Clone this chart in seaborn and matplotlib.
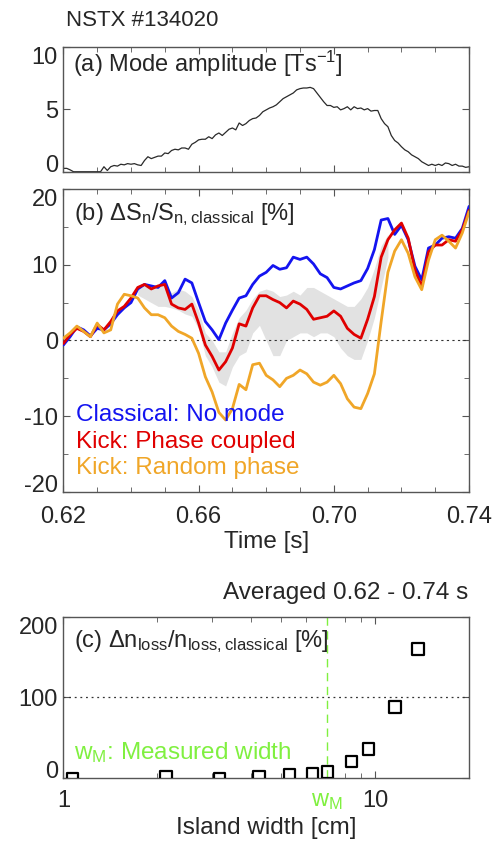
import numpy as np
import pandas as pd
import matplotlib.pyplot as plt
import seaborn as sns

# (a) mode amplitude [T/s], sampled every 1 ms
time_a = np.round(np.linspace(0.62, 0.74, 121), 3)
mode_amp = [0.27, 0.27, 0.15, 0.0, 0.0, 0.0, 0.0, 0.0, 0.0, 0.0,
            0.0, 0.0, 0.4, 0.1, 0.4, 0.5, 0.45, 0.6, 0.55, 0.65,
            0.6, 0.65, 0.55, 0.5, 0.9, 1.2, 1.05, 1.15, 1.25, 1.25,
            1.5, 1.45, 1.7, 1.8, 1.75, 1.9, 1.9, 1.8, 2.2, 2.35,
            2.55, 2.6, 2.6, 2.8, 2.65, 2.95, 3.1, 2.9, 3.15, 3.4,
            3.5, 3.35, 3.9, 3.7, 3.85, 4.1, 4.25, 4.3, 4.5, 4.8,
            4.95, 5.1, 5.2, 5.35, 5.6, 5.85, 6.0, 6.15, 6.3, 6.55,
            6.65, 6.7, 6.7, 6.75, 6.65, 6.3, 5.95, 5.6, 5.3, 5.3,
            5.15, 5.2, 4.95, 5.05, 5.2, 4.95, 5.2, 5.05, 5.1, 4.95,
            5.05, 4.85, 4.9, 4.9, 4.25, 3.85, 3.6, 2.9, 2.5, 2.3,
            2.0, 1.75, 1.6, 1.35, 1.2, 1.05, 0.8, 0.65, 0.5, 0.6,
            0.5, 0.6, 0.5, 0.7, 0.65, 0.5, 0.6, 0.45, 0.45, 0.35, 0.4]

# (b) neutron rate change [%], sampled every 2 ms
time_b = np.round(np.linspace(0.62, 0.74, 61), 3)
classical = [-0.6, 0.5, 1.8, 1.4, 0.6, 1.6, 1.4, 2.2, 3.4, 4.3,
             5.0, 6.8, 7.4, 7.2, 7.0, 7.9, 5.6, 6.3, 8.1, 7.6,
             5.0, 2.5, 1.4, 0.1, 2.3, 4.0, 5.6, 5.9, 7.4, 8.5,
             9.0, 9.9, 9.4, 9.6, 11.0, 10.7, 11.0, 10.1, 8.8, 8.3,
             7.0, 6.8, 7.2, 7.6, 7.9, 9.5, 12.0, 15.9, 16.1, 14.0,
             15.2, 13.3, 9.8, 8.0, 12.2, 12.6, 13.5, 13.7, 13.5, 14.8, 17.7]
phase_coupled = [-0.4, 0.8, 1.6, 1.2, 0.5, 2.1, 1.4, 2.5, 3.9, 4.5,
                 5.6, 7.0, 7.4, 6.8, 7.2, 7.4, 4.8, 4.3, 4.1, 4.8,
                 2.3, -0.6, -2.1, -3.9, -2.8, -1.0, 2.2, 1.9, 4.3, 5.9,
                 5.9, 5.4, 5.0, 4.3, 5.2, 4.8, 4.1, 2.8, 3.0, 3.2,
                 3.9, 3.2, 1.6, 0.8, 0.3, 2.8, 5.8, 11.0, 13.3, 14.6,
                 15.5, 13.5, 9.3, 7.1, 11.7, 12.6, 12.6, 13.3, 13.1, 14.6, 17.2]
random_phase = [0.3, 1.0, 1.9, 1.2, 0.5, 2.3, 1.0, 1.4, 4.8, 6.1,
                5.9, 5.6, 4.3, 3.4, 3.4, 3.0, 1.9, 1.2, 0.8, 0.3,
                -1.7, -4.8, -6.8, -9.5, -10.5, -9.0, -5.8, -6.5, -3.2, -3.0,
                -4.6, -5.2, -6.1, -5.0, -4.6, -3.9, -4.4, -5.5, -5.9, -5.5,
                -4.6, -5.7, -7.7, -8.8, -9.0, -7.0, -4.4, 2.5, 9.0, 11.8,
                13.3, 11.5, 8.4, 6.7, 10.6, 13.3, 13.9, 13.1, 12.2, 14.2, 17.0]
nan = np.nan
band_low = [nan] * 11 + [6.0, 5.5, 5.0, 4.5, 4.5, 4.3, 4.0, 3.5, 3.2,
                         1.5, -2.0, -3.5, -5.5, -6.0, -3.5, -2.0, -1.5, 1.0, 2.0,
                         0.0, -2.0, -2.0, 0.0, 0.5, 1.0, 1.0, 0.5, 1.0, 1.0,
                         0.5, -1.0, -2.0, -2.5, -2.5, 0.0, 3.0, 7.0, 11.0] + [nan] * 12
band_high = [nan] * 11 + [7.0, 7.4, 7.2, 7.2, 7.4, 6.3, 6.8, 6.5, 5.8,
                          4.0, 1.0, 0.0, -1.5, -1.5, 1.0, 3.0, 4.0, 5.5, 6.5,
                          6.8, 6.5, 5.8, 6.0, 6.5, 6.0, 7.0, 7.0, 6.5, 6.0,
                          5.5, 5.0, 4.5, 4.5, 5.5, 7.0, 9.5, 12.5, 14.0] + [nan] * 12

# (c) loss change vs island width
island_width = [1.07, 2.13, 3.17, 4.24, 5.31, 6.30, 7.04, 8.40, 9.52, 11.6, 13.7]
loss_change = [-2, 1, -1, 1, 3, 5, 7, 20, 36, 88, 160]
w_measured = 7.0

BLUE = "#1414f0"
RED = "#e00000"
ORANGE = "#f0a628"
GREEN = "#80f040"
AXIS_GRAY = "#555555"
case_names = ["Classical: No mode", "Kick: Phase coupled", "Kick: Random phase"]
case_colors = [BLUE, RED, ORANGE]

TICK_SIZE = 17
LABEL_SIZE = 17.5

sns.set_style("ticks")
plt.rcParams["font.family"] = ["Liberation Sans", "DejaVu Sans"]
plt.rcParams["mathtext.default"] = "regular"

fig = plt.figure(figsize=(4.99, 8.41), dpi=100)
ax_a = fig.add_axes([0.127, 0.7958, 0.813, 0.1486])
ax_b = fig.add_axes([0.127, 0.415, 0.813, 0.3603])
ax_c = fig.add_axes([0.127, 0.0753, 0.813, 0.1911])


def style_axis(ax):
    for sp in ax.spines.values():
        sp.set_color(AXIS_GRAY)
        sp.set_linewidth(1.0)
    ax.tick_params(which="both", direction="in", top=True, right=True,
                   color=AXIS_GRAY, labelsize=TICK_SIZE)
    ax.tick_params(which="major", length=5)
    ax.tick_params(which="minor", length=3.5)
    ax.tick_params(axis="y", pad=4)
    ax.tick_params(axis="x", pad=9)


def set_yticks_idl(ax, ticks):
    # end labels sit inside the axis range, like the original plotting tool
    ax.set_yticks(ticks, [str(t) for t in ticks])
    labels = ax.get_yticklabels()
    labels[0].set_va("baseline")
    labels[-1].set_va("top")


time_major = [0.62, 0.66, 0.70, 0.74]
time_minor = [0.62 + 0.01 * i for i in range(13)]

# ---- (a) mode amplitude
sns.lineplot(x=time_a, y=mode_amp, ax=ax_a, color="#2a2a2a", lw=0.9)
ax_a.set_xlim(0.62, 0.74)
ax_a.set_ylim(0, 10)
style_axis(ax_a)
set_yticks_idl(ax_a, [0, 5, 10])
ax_a.set_xticks(time_major)
ax_a.set_xticks(time_minor, minor=True)
ax_a.tick_params(labelbottom=False)
ax_a.text(0.024, 0.80, "(a) Mode amplitude [Ts$^{-1}$]", transform=ax_a.transAxes,
          va="baseline", ha="left", size=17)

# ---- (b) neutron rate
ax_b.fill_between(time_b, band_low, band_high, color="#e2e2e2", lw=0, zorder=1)
ax_b.axhline(0, color="#333333", ls=(0, (2, 3)), lw=0.8, zorder=1)
df_b = pd.DataFrame({"time": time_b, case_names[0]: classical,
                     case_names[1]: phase_coupled, case_names[2]: random_phase})
df_b = df_b.melt(id_vars="time", var_name="case", value_name="dS")
sns.lineplot(data=df_b, x="time", y="dS", hue="case",
             palette=dict(zip(case_names, case_colors)), lw=2.0,
             legend=False, ax=ax_b, zorder=3)
ax_b.set_xlim(0.62, 0.74)
ax_b.set_ylim(-20, 20)
style_axis(ax_b)
ax_b.tick_params(axis="x", pad=10)
set_yticks_idl(ax_b, [-20, -10, 0, 10, 20])
ax_b.set_yticks([-15, -5, 5, 15], minor=True)
ax_b.set_xticks(time_major, ["0.62", "0.66", "0.70", "0.74"])
ax_b.set_xticks(time_minor, minor=True)
ax_b.set_xlabel("Time [s]", size=LABEL_SIZE)
ax_b.xaxis.set_label_coords(0.5, -0.128)
ax_b.set_ylabel("")
ax_b.text(0.026, 0.898, "(b) ΔS$_n$/S$_{n,classical}$ [%]", transform=ax_b.transAxes,
          va="baseline", ha="left", size=17)
for name, col, yb in zip(case_names, case_colors, [0.235, 0.146, 0.059]):
    ax_b.text(0.03, yb, name, color=col, transform=ax_b.transAxes,
              va="baseline", ha="left", size=LABEL_SIZE)

fig.text(0.9385, 0.2878, "Averaged 0.62 - 0.74 s", ha="right", va="baseline", size=LABEL_SIZE)
fig.text(0.133, 0.976, "NSTX #134020", ha="left", va="center", size=16)

# ---- (c) loss vs island width
ax_c.axhline(100, color="#333333", ls=(0, (1.5, 3)), lw=0.9, zorder=1)
ax_c.axvline(w_measured, color=GREEN, ls=(0, (6, 4)), lw=1.0, zorder=1)
sns.scatterplot(x=island_width, y=loss_change, ax=ax_c, marker="s", s=70,
                facecolor="none", edgecolor="black", linewidth=1.6, zorder=3)
ax_c.set_xscale("log")
ax_c.set_xlim(1, 20)
ax_c.set_ylim(0, 200)
style_axis(ax_c)
set_yticks_idl(ax_c, [0, 100, 200])
ax_c.set_xticks([1, 10], ["1", "10"])
ax_c.xaxis.set_minor_formatter(plt.NullFormatter())
ax_c.text(w_measured, -0.075, "w$_M$", color=GREEN, transform=ax_c.get_xaxis_transform(),
          ha="center", va="top", size=TICK_SIZE)
ax_c.set_xlabel("Island width [cm]", size=LABEL_SIZE)
ax_c.xaxis.set_label_coords(0.5, -0.245)
ax_c.text(0.026, 0.815, "(c) Δn$_{loss}$/n$_{loss,classical}$ [%]", transform=ax_c.transAxes,
          va="baseline", ha="left", size=17)
ax_c.text(0.026, 0.1145, "w$_M$: Measured width", color=GREEN, transform=ax_c.transAxes,
          va="baseline", ha="left", size=LABEL_SIZE)

fig.savefig("out.png", dpi=100)
